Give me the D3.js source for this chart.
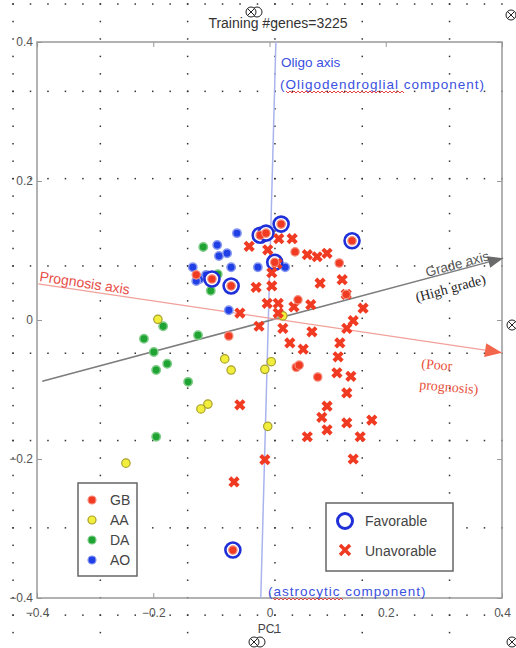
<!DOCTYPE html>
<html>
<head>
<meta charset="utf-8">
<script src="https://cdn.jsdelivr.net/npm/d3@7"></script>
<style>
  body { margin: 0; background: #fff; }
  svg { display: block; font-family: "Liberation Sans", Arial, sans-serif; }
</style>
</head>
<body>
<div id="chart"></div>
<script>
// ---- data (PC1, PC2) ----
const gbPoints = [
  [-0.099, 0.059], [-0.066, 0.049], [-0.016, 0.122], [-0.006, 0.125], [0.020, 0.138],
  [0.142, 0.114], [0.009, 0.083], [-0.063, -0.331],
  [0.044, 0.098], [0.120, 0.082], [0.049, 0.029], [-0.070, -0.023], [0.046, -0.068],
  [0.051, -0.065], [0.083, -0.082], [-0.126, 0.065], [0.132, 0.037]
];
const aaPoints = [
  [-0.192, 0.001], [-0.077, -0.056], [-0.066, -0.072], [-0.106, -0.121], [-0.118, -0.128],
  [-0.247, -0.206], [0.003, -0.060], [-0.008, -0.071], [-0.003, -0.153], [0.023, 0.006],
  [-0.063, 0.047]
];
const daPoints = [
  [-0.183, -0.009], [-0.216, -0.027], [-0.199, -0.046], [-0.176, -0.063], [-0.195, -0.072],
  [-0.140, -0.089], [-0.123, -0.022], [-0.195, -0.168], [-0.114, 0.105], [-0.089, 0.066],
  [-0.101, 0.042]
];
const aoPoints = [
  [-0.056, 0.125], [-0.090, 0.108], [-0.073, 0.096], [-0.087, 0.092], [-0.132, 0.076],
  [-0.066, 0.076], [-0.020, 0.076], [-0.120, 0.059], [-0.109, 0.065], [-0.126, 0.056],
  [-0.070, 0.014], [0.027, 0.076]
];
const favorablePoints = [
  [-0.099, 0.059], [-0.066, 0.049], [-0.016, 0.122], [-0.006, 0.125], [0.020, 0.138],
  [0.142, 0.114], [0.009, 0.083], [-0.063, -0.331]
];
const unfavorablePoints = [
  [-0.035, 0.106], [-0.003, 0.101], [0.016, 0.117], [0.039, 0.117], [0.065, 0.094],
  [0.082, 0.091], [0.099, 0.096], [0.013, 0.081], [0.004, 0.068], [0.087, 0.053],
  [0.125, 0.058], [-0.023, 0.047], [0.004, 0.049], [0.132, 0.037], [0.071, 0.022],
  [-0.004, 0.024], [0.015, 0.024], [0.042, 0.019], [0.161, 0.017], [-0.051, 0.010],
  [0.015, 0.010], [0.023, -0.012], [-0.018, -0.009], [0.073, -0.017], [0.144, -0.001],
  [0.133, -0.012], [0.121, -0.033], [0.035, -0.033], [0.058, -0.042], [0.118, -0.053],
  [0.116, -0.076], [0.140, -0.081], [-0.051, -0.122], [0.133, -0.105], [0.099, -0.124],
  [0.090, -0.140], [0.099, -0.158], [0.133, -0.148], [0.176, -0.144], [0.065, -0.168],
  [0.156, -0.168], [-0.008, -0.201], [0.144, -0.200], [-0.061, -0.233]
];
const xTicks = [-0.4, -0.2, 0, 0.2, 0.4];
const yTicks = [-0.4, -0.2, 0, 0.2, 0.4];

// projection axes: [start, end] in data units
const oligoAxis = [[0.011, 0.4], [-0.015, -0.4]];
const gradeAxis = [[-0.391, -0.088], [0.402, 0.089]];
const prognosisAxis = [[-0.398, 0.052], [0.400, -0.047]];

const classLegend = [
  { label: "GB", fill: "#f03a22", stroke: "#f5907f" },
  { label: "AA", fill: "#f2ee3c", stroke: "#a89f2c" },
  { label: "DA", fill: "#1fa332", stroke: "#7fcc88" },
  { label: "AO", fill: "#2040e6", stroke: "#8898f0" }
];

const width = 516, height = 648;
const svg = d3.select("#chart").append("svg")
  .attr("width", width).attr("height", height);

const x = d3.scaleLinear().domain([-0.4, 0.4]).range([37, 502]);
const y = d3.scaleLinear().domain([-0.4, 0.4]).range([598, 42]);

// plot background
svg.append("rect")
  .attr("x", x(-0.4)).attr("y", y(0.4))
  .attr("width", x(0.4) - x(-0.4)).attr("height", y(-0.4) - y(0.4))
  .attr("fill", "#fff");

// dotted drawing grid over the page
const gridG = svg.append("g").attr("fill", "#333");
const colX = d3.range(13, width, 87.3);
const rowY = d3.range(4, height, 87.3);
colX.forEach(cx => {
  d3.range(4, height, 17.46).forEach(cy => {
    gridG.append("rect").attr("x", cx - 0.7).attr("y", cy - 0.7).attr("width", 1.5).attr("height", 1.5);
  });
});
rowY.forEach(cy => {
  d3.range(13, width, 17.46).forEach(cx => {
    gridG.append("rect").attr("x", cx - 0.7).attr("y", cy - 0.7).attr("width", 1.5).attr("height", 1.5);
  });
});

// frame + ticks
const axisColor = "#999";
function styleAxis(g) {
  g.select(".domain").remove();
  g.selectAll(".tick line").attr("stroke", axisColor);
  g.selectAll(".tick text").attr("fill", "#555").style("font-size", "12px");
}
svg.append("g").attr("transform", `translate(0,${y(-0.4)})`)
  .call(d3.axisBottom(x).tickValues(xTicks).tickSize(-5).tickPadding(10).tickFormat(d3.format("")))
  .call(styleAxis);
svg.append("g").attr("transform", `translate(0,${y(0.4)})`)
  .call(d3.axisTop(x).tickValues(xTicks).tickSize(-5).tickFormat(""))
  .call(styleAxis);
svg.append("g").attr("transform", `translate(${x(-0.4)},0)`)
  .call(d3.axisLeft(y).tickValues(yTicks).tickSize(-5).tickPadding(4).tickFormat(d3.format("")))
  .call(styleAxis);
svg.append("g").attr("transform", `translate(${x(0.4)},0)`)
  .call(d3.axisRight(y).tickValues(yTicks).tickSize(-5).tickFormat(""))
  .call(styleAxis);
svg.append("rect")
  .attr("x", x(-0.4)).attr("y", y(0.4))
  .attr("width", x(0.4) - x(-0.4)).attr("height", y(-0.4) - y(0.4))
  .attr("fill", "none").attr("stroke", axisColor).attr("stroke-width", 1.5);

// title + x label
svg.append("text").attr("x", 278).attr("y", 28).attr("text-anchor", "middle")
  .style("font-size", "14px").attr("fill", "#333").text("Training #genes=3225");
svg.append("text").attr("x", x(0)).attr("y", 633).attr("text-anchor", "middle")
  .style("font-size", "12px").attr("fill", "#444").text("PC1");

// projection axes
function axisLine(pts, color, w) {
  svg.append("line")
    .attr("x1", x(pts[0][0])).attr("y1", y(pts[0][1]))
    .attr("x2", x(pts[1][0])).attr("y2", y(pts[1][1]))
    .attr("stroke", color).attr("stroke-width", w);
}
function arrowHead(pts, color, len, half) {
  const x1 = x(pts[0][0]), y1 = y(pts[0][1]), x2 = x(pts[1][0]), y2 = y(pts[1][1]);
  const a = Math.atan2(y2 - y1, x2 - x1);
  const bx = x2 - len * Math.cos(a), by = y2 - len * Math.sin(a);
  const px = -Math.sin(a) * half, py = Math.cos(a) * half;
  svg.append("path")
    .attr("d", `M${x2},${y2}L${bx + px},${by + py}L${bx - px},${by - py}Z`)
    .attr("fill", color);
}
axisLine(oligoAxis, "#a9b4ee", 1.5);
axisLine(gradeAxis, "#7d7d7d", 1.5);
axisLine(prognosisAxis, "#f2a09a", 1.3);
arrowHead(gradeAxis, "#6a6a6a", 15, 6);
arrowHead(prognosisAxis, "#f2674c", 17, 7);

// markers
const gDots = svg.append("g");
function drawDots(data, fill, stroke, sw) {
  gDots.selectAll(null).data(data).enter().append("circle")
    .attr("cx", d => x(d[0])).attr("cy", d => y(d[1])).attr("r", 4.2)
    .attr("fill", fill).attr("stroke", stroke).attr("stroke-width", sw);
}
drawDots(daPoints, "#1fa332", "#7fcc88", 1.5);
drawDots(aaPoints, "#f2ee3c", "#a89f2c", 1.2);
drawDots(aoPoints, "#2040e6", "#8898f0", 1.5);

// favorable rings
svg.selectAll(null).data(favorablePoints).enter().append("circle")
  .attr("cx", d => x(d[0])).attr("cy", d => y(d[1])).attr("r", 7.5)
  .attr("fill", "#fff").attr("stroke", "#2030d8").attr("stroke-width", 2.6);

// unfavorable crosses
const xPath = s => `M${-s},${-s}L${s},${s}M${-s},${s}L${s},${-s}`;
svg.selectAll(null).data(unfavorablePoints).enter().append("path")
  .attr("transform", d => `translate(${x(d[0])},${y(d[1])})`)
  .attr("d", xPath(4.2))
  .attr("stroke", "#f03a22").attr("stroke-width", 4).attr("fill", "none");

// GB dots on top
svg.selectAll(null).data(gbPoints).enter().append("circle")
  .attr("cx", d => x(d[0])).attr("cy", d => y(d[1])).attr("r", 4.2)
  .attr("fill", "#f03a22").attr("stroke", "#f5907f").attr("stroke-width", 1.2);

// axis labels
svg.append("text").attr("transform", "translate(39,281) rotate(8.5)")
  .style("font-size", "14px").attr("fill", "#e8504a").text("Prognosis axis");
svg.append("text").attr("transform", "translate(427,277) rotate(-15)")
  .style("font-size", "13.5px").attr("fill", "#555").text("Grade axis");
svg.append("text").attr("transform", "translate(417,302) rotate(-15)")
  .style("font-size", "14px").style("font-family", "'Liberation Serif', serif")
  .attr("fill", "#222").text("(High grade)");
svg.append("text").attr("transform", "translate(421,368) rotate(5)")
  .style("font-size", "14px").style("font-family", "'Liberation Serif', serif")
  .attr("fill", "#e8503a").text("(Poor");
svg.append("text").attr("transform", "translate(419,389) rotate(5)")
  .style("font-size", "14px").style("font-family", "'Liberation Serif', serif")
  .attr("fill", "#e8503a").text("prognosis)");
svg.append("text").attr("x", 281).attr("y", 67)
  .style("font-size", "13.5px").attr("fill", "#3a50e0").text("Oligo axis");
svg.append("text").attr("x", 280).attr("y", 89).style("letter-spacing", "1px")
  .style("font-size", "13.5px").attr("fill", "#3a50e0").text("(Oligodendroglial component)");
svg.append("text").attr("x", 268).attr("y", 596).style("letter-spacing", "1px")
  .style("font-size", "13.5px").attr("fill", "#3a50e0").text("(astrocytic component)");

// spell-check squiggles
function squiggle(x0, x1, yy) {
  let d = `M${x0},${yy}`;
  for (let xx = x0, k = 0; xx < x1; xx += 2, k++) d += `L${xx + 2},${yy + (k % 2 ? 0 : 2)}`;
  svg.append("path").attr("d", d).attr("fill", "none").attr("stroke", "#e03030").attr("stroke-width", 0.9);
}
squiggle(286, 404, 91);
squiggle(273, 343, 598);

// class legend
const lg1 = svg.append("g");
lg1.append("rect").attr("x", 78).attr("y", 483).attr("width", 59).attr("height", 93)
  .attr("fill", "#fff").attr("stroke", "#666").attr("stroke-width", 1.5);
classLegend.forEach((c, i) => {
  const cy = 500 + i * 20;
  lg1.append("circle").attr("cx", 92).attr("cy", cy).attr("r", 4)
    .attr("fill", c.fill).attr("stroke", c.stroke).attr("stroke-width", 1.2);
  lg1.append("text").attr("x", 110).attr("y", cy + 5)
    .style("font-size", "14px").attr("fill", "#444").text(c.label);
});

// outcome legend
const lg2 = svg.append("g");
lg2.append("rect").attr("x", 326).attr("y", 503).attr("width", 127).attr("height", 68)
  .attr("fill", "#fff").attr("stroke", "#666").attr("stroke-width", 1.5);
lg2.append("circle").attr("cx", 345).attr("cy", 521).attr("r", 7.5)
  .attr("fill", "none").attr("stroke", "#2030d8").attr("stroke-width", 3);
lg2.append("text").attr("x", 365).attr("y", 526)
  .style("font-size", "14px").attr("fill", "#444").text("Favorable");
lg2.append("path").attr("transform", "translate(345,550)").attr("d", xPath(5))
  .attr("stroke", "#f03a22").attr("stroke-width", 3.5);
lg2.append("text").attr("x", 365).attr("y", 556)
  .style("font-size", "14px").attr("fill", "#444").text("Unavorable");

// drawing-canvas handles
const handles = [[251, 12, true], [511, 15, false], [512, 325, false], [254, 642, true], [512, 642, false]];
handles.forEach(([hx, hy, dbl]) => {
  const g = svg.append("g").attr("transform", `translate(${hx},${hy})`)
    .attr("fill", "none").attr("stroke", "#222").attr("stroke-width", 1);
  if (dbl) g.append("circle").attr("cx", 6).attr("r", 5).attr("fill", "#fff");
  g.append("circle").attr("r", 5).attr("fill", "#fff");
  g.append("path").attr("d", "M-3.5,-3.5L3.5,3.5M-3.5,3.5L3.5,-3.5");
});
</script>
</body>
</html>
